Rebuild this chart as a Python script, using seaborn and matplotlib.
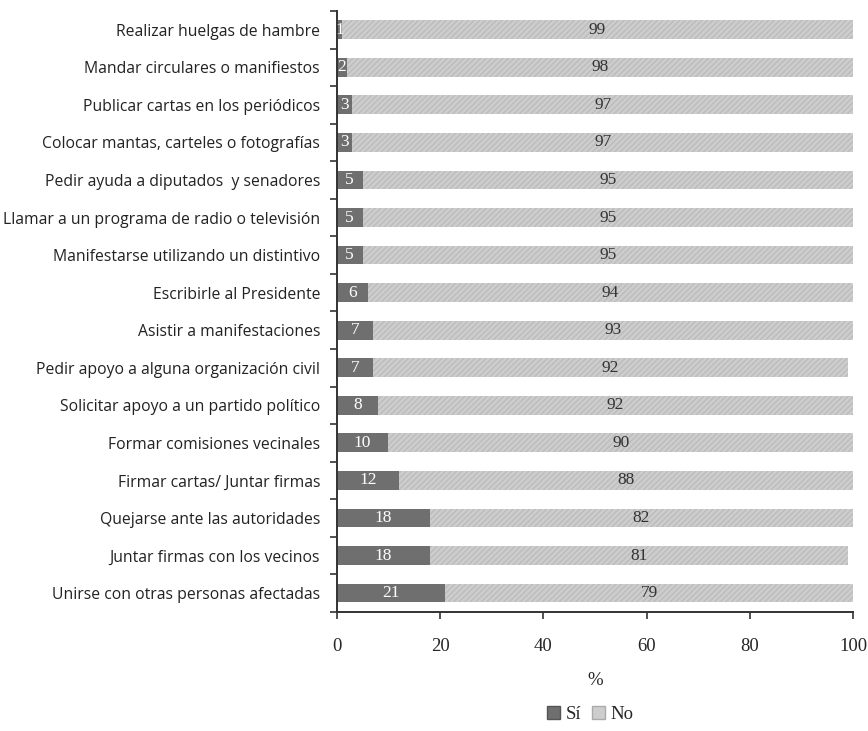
import numpy as np
import pandas as pd
import matplotlib.pyplot as plt
import seaborn as sns
from matplotlib.patches import Patch

acciones = ['Realizar huelgas de hambre', 'Mandar circulares o manifiestos',
            'Publicar cartas en los periódicos', 'Colocar mantas, carteles o fotografías',
            'Pedir ayuda a diputados  y senadores', 'Llamar a un programa de radio o televisión',
            'Manifestarse utilizando un distintivo', 'Escribirle al Presidente',
            'Asistir a manifestaciones', 'Pedir apoyo a alguna organización civil',
            'Solicitar apoyo a un partido político', 'Formar comisiones vecinales',
            'Firmar cartas/ Juntar firmas', 'Quejarse ante las autoridades',
            'Juntar firmas con los vecinos', 'Unirse con otras personas afectadas']
si = [1, 2, 3, 3, 5, 5, 5, 6, 7, 7, 8, 10, 12, 18, 18, 21]
no = [99, 98, 97, 97, 95, 95, 95, 94, 93, 92, 92, 90, 88, 82, 81, 79]

df = pd.DataFrame({'accion': acciones, 'si': si, 'no': no})
df['total'] = df['si'] + df['no']

sns.set_style('ticks')
plt.rcParams['font.family'] = ['Open Sans', 'DejaVu Sans']
serif = ['Liberation Serif', 'DejaVu Serif']

fig = plt.figure(figsize=(8.68, 7.31), dpi=100)
ax = fig.add_axes([0.388, 0.163, 0.595, 0.822])

c_si = '#6f6f6f'
c_no = '#cdcdcd'
# stacked: draw total (light) then Sí (dark) on top
sns.barplot(data=df, y='accion', x='total', color=c_no, orient='h', width=0.5,
            saturation=1, ax=ax, hatch='//////', edgecolor='#bcbcbc', linewidth=0)
sns.barplot(data=df, y='accion', x='si', color=c_si, orient='h', width=0.5,
            saturation=1, ax=ax, linewidth=0)

for i, (s, n) in enumerate(zip(si, no)):
    ax.text(s / 2, i, str(s), ha='center', va='center', color='white',
            fontsize=12.5, family=serif)
    ax.text(s + n / 2, i, str(n), ha='center', va='center', color='#333333',
            fontsize=12.5, family=serif)

ax.set_xlim(0, 100)
ax.set_ylim(len(acciones) - 0.5, -0.5)
ax.set_xticks(range(0, 101, 20))
ax.set_xticklabels([str(v) for v in range(0, 101, 20)], family=serif, fontsize=13.5)
ax.set_yticks(np.arange(len(acciones) + 1) - 0.5, minor=True)
ax.set_yticks(range(len(acciones)))
ax.set_yticklabels(acciones, fontsize=11.3, color='#222222')
ax.tick_params(axis='y', which='major', length=0, pad=12)
ax.tick_params(axis='y', which='minor', length=5, width=1.2, color='#333333')
ax.tick_params(axis='x', length=5, width=1.2, color='#333333', pad=14)
ax.set_ylabel('')
ax.set_xlabel('%', family=serif, fontsize=13.5, labelpad=12)
for side in ['top', 'right']:
    ax.spines[side].set_visible(False)
for side in ['left', 'bottom']:
    ax.spines[side].set_linewidth(1.4)
    ax.spines[side].set_color('#333333')

handles = [Patch(facecolor=c_si, edgecolor='#555555', label='Sí'),
           Patch(facecolor=c_no, edgecolor='#aaaaaa', label='No')]
fig.legend(handles=handles, loc='center', bbox_to_anchor=(0.68, 0.022), ncol=2,
           frameon=False, prop={'family': serif, 'size': 13.5}, handlelength=0.7,
           handleheight=0.7, handletextpad=0.3, columnspacing=0.6)

fig.savefig('out.png', dpi=100, facecolor='white')
